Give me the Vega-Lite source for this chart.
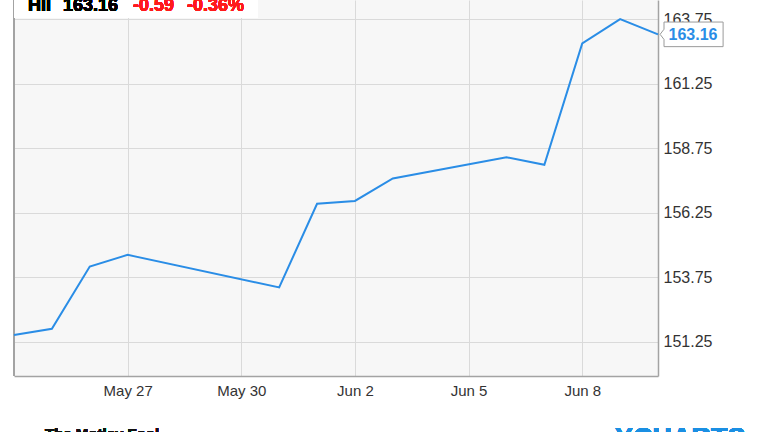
{
  "$schema": "https://vega.github.io/schema/vega-lite/v6.json",
  "width": 644,
  "height": 376,
  "autosize": {"type": "none"},
  "padding": {"left": 14, "top": 0, "right": 106, "bottom": 56},
  "background": "#ffffff",
  "config": {
    "view": {"fill": "#f7f7f7", "stroke": null},
    "font": "Liberation Sans"
  },
  "data": {
    "values": [
      {"date": "2016-05-24", "close": 151.52},
      {"date": "2016-05-25", "close": 151.76},
      {"date": "2016-05-26", "close": 154.17},
      {"date": "2016-05-27", "close": 154.62},
      {"date": "2016-05-31", "close": 153.36},
      {"date": "2016-06-01", "close": 156.60},
      {"date": "2016-06-02", "close": 156.71},
      {"date": "2016-06-03", "close": 157.58},
      {"date": "2016-06-06", "close": 158.40},
      {"date": "2016-06-07", "close": 158.11},
      {"date": "2016-06-08", "close": 162.81},
      {"date": "2016-06-09", "close": 163.75},
      {"date": "2016-06-10", "close": 163.16}
    ]
  },
  "encoding": {
    "x": {
      "field": "date",
      "type": "temporal",
      "scale": {"type": "utc", "domain": ["2016-05-24", "2016-06-10"], "nice": false},
      "axis": {
        "title": null,
        "values": [
          {"year": 2016, "month": 5, "date": 27, "utc": true},
          {"year": 2016, "month": 5, "date": 30, "utc": true},
          {"year": 2016, "month": 6, "date": 2, "utc": true},
          {"year": 2016, "month": 6, "date": 5, "utc": true},
          {"year": 2016, "month": 6, "date": 8, "utc": true}
        ],
        "format": "%b %-d",
        "grid": true,
        "gridColor": "#dadada",
        "gridWidth": 1,
        "ticks": false,
        "domain": true,
        "domainColor": "#a3a3a3",
        "domainWidth": 1.5,
        "labelFont": "Liberation Sans",
        "labelFontSize": 15,
        "labelColor": "#333333",
        "labelPadding": 7,
        "labelFlush": false
      }
    },
    "y": {
      "field": "close",
      "type": "quantitative",
      "scale": {"domain": [149.93, 164.49], "nice": false, "zero": false},
      "axis": {
        "title": null,
        "orient": "right",
        "values": [151.25, 153.75, 156.25, 158.75, 161.25, 163.75],
        "format": ".2f",
        "grid": true,
        "gridColor": "#dadada",
        "gridWidth": 1,
        "ticks": false,
        "domain": true,
        "domainColor": "#a3a3a3",
        "domainWidth": 1.5,
        "labelFont": "Liberation Sans",
        "labelFontSize": 16,
        "labelColor": "#333333",
        "labelPadding": 5
      }
    }
  },
  "layer": [
    {
      "mark": {"type": "rule", "color": "#a3a3a3", "strokeWidth": 1.5},
      "encoding": {"x": {"datum": {"year": 2016, "month": 5, "date": 24, "utc": true}}, "y": null}
    },
    {
      "mark": {"type": "rect", "color": "#ffffff", "opacity": 0.75},
      "encoding": {
        "x": {"datum": {"year": 2016, "month": 5, "date": 24, "utc": true}},
        "x2": {"datum": {"year": 2016, "month": 5, "date": 30, "hours": 10, "minutes": 35, "utc": true}},
        "y": {"datum": 164.49},
        "y2": {"datum": 163.8}
      }
    },
    {
      "mark": {"type": "line", "color": "#2a8de6", "strokeWidth": 2}
    },
    {
      "transform": [{"filter": "datum.close == 163.16"}],
      "mark": {
        "type": "point",
        "shape": "M0.07,0 L0.2,-0.17 L0.2,-0.41 L2.17,-0.41 L2.17,0.41 L0.2,0.41 L0.2,0.17 Z",
        "size": 3600,
        "filled": true,
        "fill": "#ffffff",
        "stroke": "#9a9a9a",
        "strokeWidth": 1,
        "opacity": 1
      }
    },
    {
      "transform": [{"filter": "datum.close == 163.16"}],
      "mark": {
        "type": "text",
        "font": "Liberation Sans",
        "fontWeight": "bold",
        "fontSize": 16,
        "color": "#2a8de6",
        "align": "center",
        "baseline": "middle",
        "dx": 35,
        "dy": 1
      },
      "encoding": {"text": {"field": "close", "type": "quantitative", "format": ".2f"}}
    },
    {
      "mark": {"type": "text", "text": "HII", "font": "Liberation Sans", "fontWeight": "bold", "fontSize": 18, "color": "#000000", "align": "left", "baseline": "alphabetic", "dx": 14, "dy": 11},
      "encoding": {"x": {"datum": {"year": 2016, "month": 5, "date": 24, "utc": true}}, "y": {"datum": 164.49}}
    },
    {
      "mark": {"type": "text", "text": "163.16", "font": "Liberation Sans", "fontWeight": "bold", "fontSize": 18, "color": "#000000", "align": "left", "baseline": "alphabetic", "dx": 49, "dy": 11},
      "encoding": {"x": {"datum": {"year": 2016, "month": 5, "date": 24, "utc": true}}, "y": {"datum": 164.49}}
    },
    {
      "mark": {"type": "text", "text": "-0.59", "font": "Liberation Sans", "fontWeight": "bold", "fontSize": 18, "color": "#ff1a1a", "align": "left", "baseline": "alphabetic", "dx": 119, "dy": 11},
      "encoding": {"x": {"datum": {"year": 2016, "month": 5, "date": 24, "utc": true}}, "y": {"datum": 164.49}}
    },
    {
      "mark": {"type": "text", "text": "-0.36%", "font": "Liberation Sans", "fontWeight": "bold", "fontSize": 18, "color": "#ff1a1a", "align": "left", "baseline": "alphabetic", "dx": 173, "dy": 11},
      "encoding": {"x": {"datum": {"year": 2016, "month": 5, "date": 24, "utc": true}}, "y": {"datum": 164.49}}
    },
    {
      "mark": {"type": "text", "text": "The Motley Fool", "font": "Liberation Sans", "fontWeight": "bold", "fontSize": 15, "color": "#111111", "align": "left", "baseline": "top", "dx": 31, "dy": 51},
      "encoding": {"x": {"datum": {"year": 2016, "month": 5, "date": 24, "utc": true}}, "y": {"datum": 149.93}}
    },
    {
      "mark": {"type": "text", "text": "YCHARTS", "font": "Liberation Sans", "fontWeight": "bold", "fontSize": 27, "color": "#1a8fe3", "align": "left", "baseline": "top", "dx": -43, "dy": 50},
      "encoding": {"x": {"datum": {"year": 2016, "month": 6, "date": 10, "utc": true}}, "y": {"datum": 149.93}}
    }
  ]
}
